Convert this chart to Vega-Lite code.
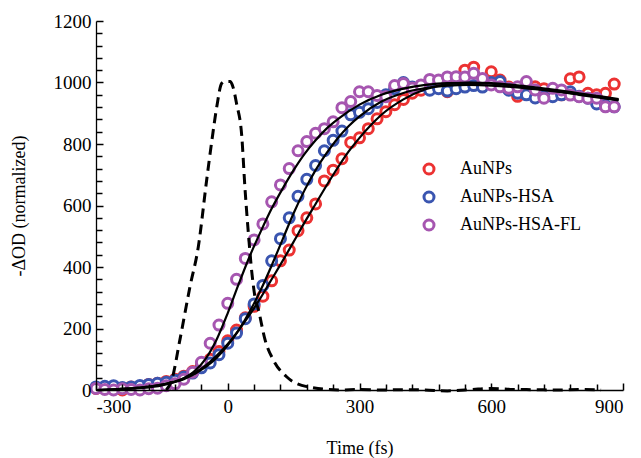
{
  "$schema": "https://vega.github.io/schema/vega-lite/v6.json",
  "width": 527,
  "height": 369,
  "autosize": "none",
  "padding": {"left": 96, "top": 21, "right": 18, "bottom": 68},
  "config": {
    "font": "Liberation Serif",
    "view": {"stroke": null, "fill": null},
    "axis": {
      "grid": false,
      "ticks": true,
      "domainColor": "black",
      "domainWidth": 1.3,
      "tickColor": "black",
      "tickWidth": 1.3,
      "tickOpacity": 1,
      "labelFontSize": 19,
      "labelColor": "black",
      "labelFont": "Liberation Serif",
      "titleFont": "Liberation Serif",
      "titleFontSize": 18,
      "titleFontWeight": "normal",
      "titleColor": "black"
    }
  },
  "resolve": {"axis": {"x": "independent", "y": "independent"}},
  "datasets": {
    "pts": [
      {"s":"AuNPs","t":-300,"v":5},{"s":"AuNPs","t":-280,"v":8},{"s":"AuNPs","t":-260,"v":3},{"s":"AuNPs","t":-240,"v":0},{"s":"AuNPs","t":-220,"v":10},{"s":"AuNPs","t":-200,"v":12},{"s":"AuNPs","t":-180,"v":18},{"s":"AuNPs","t":-160,"v":22},{"s":"AuNPs","t":-140,"v":28},{"s":"AuNPs","t":-120,"v":35},{"s":"AuNPs","t":-100,"v":45},{"s":"AuNPs","t":-80,"v":60},{"s":"AuNPs","t":-60,"v":80},{"s":"AuNPs","t":-40,"v":100},{"s":"AuNPs","t":-20,"v":125},{"s":"AuNPs","t":0,"v":160},{"s":"AuNPs","t":20,"v":195},{"s":"AuNPs","t":40,"v":235},{"s":"AuNPs","t":60,"v":272},{"s":"AuNPs","t":80,"v":305},{"s":"AuNPs","t":100,"v":355},{"s":"AuNPs","t":120,"v":420},{"s":"AuNPs","t":140,"v":455},{"s":"AuNPs","t":160,"v":518},{"s":"AuNPs","t":180,"v":560},{"s":"AuNPs","t":200,"v":605},{"s":"AuNPs","t":220,"v":680},{"s":"AuNPs","t":240,"v":715},{"s":"AuNPs","t":260,"v":752},{"s":"AuNPs","t":280,"v":805},{"s":"AuNPs","t":300,"v":820},{"s":"AuNPs","t":320,"v":850},{"s":"AuNPs","t":340,"v":882},{"s":"AuNPs","t":360,"v":905},{"s":"AuNPs","t":380,"v":928},{"s":"AuNPs","t":400,"v":945},{"s":"AuNPs","t":420,"v":965},{"s":"AuNPs","t":440,"v":975},{"s":"AuNPs","t":460,"v":985},{"s":"AuNPs","t":480,"v":990},{"s":"AuNPs","t":500,"v":970},{"s":"AuNPs","t":520,"v":1005},{"s":"AuNPs","t":540,"v":1040},{"s":"AuNPs","t":560,"v":1050},{"s":"AuNPs","t":580,"v":1000},{"s":"AuNPs","t":600,"v":1035},{"s":"AuNPs","t":620,"v":1008},{"s":"AuNPs","t":640,"v":985},{"s":"AuNPs","t":660,"v":955},{"s":"AuNPs","t":680,"v":990},{"s":"AuNPs","t":700,"v":986},{"s":"AuNPs","t":720,"v":980},{"s":"AuNPs","t":740,"v":970},{"s":"AuNPs","t":760,"v":960},{"s":"AuNPs","t":780,"v":1012},{"s":"AuNPs","t":800,"v":1018},{"s":"AuNPs","t":820,"v":965},{"s":"AuNPs","t":840,"v":960},{"s":"AuNPs","t":860,"v":965},{"s":"AuNPs","t":880,"v":995},
      {"s":"AuNPs-HSA","t":-300,"v":10},{"s":"AuNPs-HSA","t":-280,"v":12},{"s":"AuNPs-HSA","t":-260,"v":14},{"s":"AuNPs-HSA","t":-240,"v":8},{"s":"AuNPs-HSA","t":-220,"v":10},{"s":"AuNPs-HSA","t":-200,"v":15},{"s":"AuNPs-HSA","t":-180,"v":18},{"s":"AuNPs-HSA","t":-160,"v":22},{"s":"AuNPs-HSA","t":-140,"v":25},{"s":"AuNPs-HSA","t":-120,"v":32},{"s":"AuNPs-HSA","t":-100,"v":42},{"s":"AuNPs-HSA","t":-80,"v":55},{"s":"AuNPs-HSA","t":-60,"v":72},{"s":"AuNPs-HSA","t":-40,"v":88},{"s":"AuNPs-HSA","t":-20,"v":115},{"s":"AuNPs-HSA","t":0,"v":152},{"s":"AuNPs-HSA","t":20,"v":185},{"s":"AuNPs-HSA","t":40,"v":232},{"s":"AuNPs-HSA","t":60,"v":280},{"s":"AuNPs-HSA","t":80,"v":340},{"s":"AuNPs-HSA","t":100,"v":420},{"s":"AuNPs-HSA","t":120,"v":492},{"s":"AuNPs-HSA","t":140,"v":560},{"s":"AuNPs-HSA","t":160,"v":630},{"s":"AuNPs-HSA","t":180,"v":685},{"s":"AuNPs-HSA","t":200,"v":730},{"s":"AuNPs-HSA","t":220,"v":778},{"s":"AuNPs-HSA","t":240,"v":812},{"s":"AuNPs-HSA","t":260,"v":842},{"s":"AuNPs-HSA","t":280,"v":895},{"s":"AuNPs-HSA","t":300,"v":903},{"s":"AuNPs-HSA","t":320,"v":915},{"s":"AuNPs-HSA","t":340,"v":935},{"s":"AuNPs-HSA","t":360,"v":960},{"s":"AuNPs-HSA","t":380,"v":980},{"s":"AuNPs-HSA","t":400,"v":1000},{"s":"AuNPs-HSA","t":420,"v":985},{"s":"AuNPs-HSA","t":440,"v":990},{"s":"AuNPs-HSA","t":460,"v":975},{"s":"AuNPs-HSA","t":480,"v":980},{"s":"AuNPs-HSA","t":500,"v":972},{"s":"AuNPs-HSA","t":520,"v":980},{"s":"AuNPs-HSA","t":540,"v":985},{"s":"AuNPs-HSA","t":560,"v":990},{"s":"AuNPs-HSA","t":580,"v":985},{"s":"AuNPs-HSA","t":600,"v":1000},{"s":"AuNPs-HSA","t":620,"v":1003},{"s":"AuNPs-HSA","t":640,"v":975},{"s":"AuNPs-HSA","t":660,"v":965},{"s":"AuNPs-HSA","t":680,"v":960},{"s":"AuNPs-HSA","t":700,"v":950},{"s":"AuNPs-HSA","t":720,"v":955},{"s":"AuNPs-HSA","t":740,"v":954},{"s":"AuNPs-HSA","t":760,"v":960},{"s":"AuNPs-HSA","t":780,"v":970},{"s":"AuNPs-HSA","t":800,"v":955},{"s":"AuNPs-HSA","t":820,"v":949},{"s":"AuNPs-HSA","t":840,"v":930},{"s":"AuNPs-HSA","t":860,"v":925},{"s":"AuNPs-HSA","t":880,"v":921},
      {"s":"AuNPs-HSA-FL","t":-300,"v":5},{"s":"AuNPs-HSA-FL","t":-280,"v":2},{"s":"AuNPs-HSA-FL","t":-260,"v":0},{"s":"AuNPs-HSA-FL","t":-240,"v":4},{"s":"AuNPs-HSA-FL","t":-220,"v":2},{"s":"AuNPs-HSA-FL","t":-200,"v":0},{"s":"AuNPs-HSA-FL","t":-180,"v":4},{"s":"AuNPs-HSA-FL","t":-160,"v":6},{"s":"AuNPs-HSA-FL","t":-140,"v":14},{"s":"AuNPs-HSA-FL","t":-120,"v":20},{"s":"AuNPs-HSA-FL","t":-100,"v":35},{"s":"AuNPs-HSA-FL","t":-80,"v":58},{"s":"AuNPs-HSA-FL","t":-60,"v":90},{"s":"AuNPs-HSA-FL","t":-40,"v":152},{"s":"AuNPs-HSA-FL","t":-20,"v":211},{"s":"AuNPs-HSA-FL","t":0,"v":282},{"s":"AuNPs-HSA-FL","t":20,"v":360},{"s":"AuNPs-HSA-FL","t":40,"v":428},{"s":"AuNPs-HSA-FL","t":60,"v":488},{"s":"AuNPs-HSA-FL","t":80,"v":540},{"s":"AuNPs-HSA-FL","t":100,"v":612},{"s":"AuNPs-HSA-FL","t":120,"v":667},{"s":"AuNPs-HSA-FL","t":140,"v":720},{"s":"AuNPs-HSA-FL","t":160,"v":778},{"s":"AuNPs-HSA-FL","t":180,"v":808},{"s":"AuNPs-HSA-FL","t":200,"v":835},{"s":"AuNPs-HSA-FL","t":220,"v":850},{"s":"AuNPs-HSA-FL","t":240,"v":872},{"s":"AuNPs-HSA-FL","t":260,"v":918},{"s":"AuNPs-HSA-FL","t":280,"v":938},{"s":"AuNPs-HSA-FL","t":300,"v":970},{"s":"AuNPs-HSA-FL","t":320,"v":970},{"s":"AuNPs-HSA-FL","t":340,"v":958},{"s":"AuNPs-HSA-FL","t":360,"v":954},{"s":"AuNPs-HSA-FL","t":380,"v":990},{"s":"AuNPs-HSA-FL","t":400,"v":997},{"s":"AuNPs-HSA-FL","t":420,"v":982},{"s":"AuNPs-HSA-FL","t":440,"v":992},{"s":"AuNPs-HSA-FL","t":460,"v":1010},{"s":"AuNPs-HSA-FL","t":480,"v":1008},{"s":"AuNPs-HSA-FL","t":500,"v":1018},{"s":"AuNPs-HSA-FL","t":520,"v":1019},{"s":"AuNPs-HSA-FL","t":540,"v":1018},{"s":"AuNPs-HSA-FL","t":560,"v":1030},{"s":"AuNPs-HSA-FL","t":580,"v":1013},{"s":"AuNPs-HSA-FL","t":600,"v":992},{"s":"AuNPs-HSA-FL","t":620,"v":986},{"s":"AuNPs-HSA-FL","t":640,"v":981},{"s":"AuNPs-HSA-FL","t":660,"v":986},{"s":"AuNPs-HSA-FL","t":680,"v":1003},{"s":"AuNPs-HSA-FL","t":700,"v":976},{"s":"AuNPs-HSA-FL","t":720,"v":949},{"s":"AuNPs-HSA-FL","t":740,"v":981},{"s":"AuNPs-HSA-FL","t":760,"v":976},{"s":"AuNPs-HSA-FL","t":780,"v":959},{"s":"AuNPs-HSA-FL","t":800,"v":954},{"s":"AuNPs-HSA-FL","t":820,"v":949},{"s":"AuNPs-HSA-FL","t":840,"v":949},{"s":"AuNPs-HSA-FL","t":860,"v":921},{"s":"AuNPs-HSA-FL","t":880,"v":921}
    ],
    "fits": [
      {"s":"AuNPs","t":-300,"v":0},{"s":"AuNPs","t":-250,"v":3},{"s":"AuNPs","t":-200,"v":8},{"s":"AuNPs","t":-150,"v":18},{"s":"AuNPs","t":-100,"v":38},{"s":"AuNPs","t":-50,"v":80},{"s":"AuNPs","t":-25,"v":112},{"s":"AuNPs","t":0,"v":150},{"s":"AuNPs","t":25,"v":195},{"s":"AuNPs","t":50,"v":245},{"s":"AuNPs","t":75,"v":300},{"s":"AuNPs","t":100,"v":360},{"s":"AuNPs","t":125,"v":420},{"s":"AuNPs","t":150,"v":482},{"s":"AuNPs","t":175,"v":545},{"s":"AuNPs","t":200,"v":605},{"s":"AuNPs","t":225,"v":665},{"s":"AuNPs","t":250,"v":722},{"s":"AuNPs","t":275,"v":775},{"s":"AuNPs","t":300,"v":820},{"s":"AuNPs","t":325,"v":860},{"s":"AuNPs","t":350,"v":895},{"s":"AuNPs","t":400,"v":945},{"s":"AuNPs","t":450,"v":978},{"s":"AuNPs","t":500,"v":995},{"s":"AuNPs","t":550,"v":1000},{"s":"AuNPs","t":600,"v":998},{"s":"AuNPs","t":650,"v":992},{"s":"AuNPs","t":700,"v":984},{"s":"AuNPs","t":750,"v":975},{"s":"AuNPs","t":800,"v":965},{"s":"AuNPs","t":850,"v":955},{"s":"AuNPs","t":890,"v":946},
      {"s":"AuNPs-HSA","t":-300,"v":0},{"s":"AuNPs-HSA","t":-250,"v":3},{"s":"AuNPs-HSA","t":-200,"v":8},{"s":"AuNPs-HSA","t":-150,"v":18},{"s":"AuNPs-HSA","t":-100,"v":35},{"s":"AuNPs-HSA","t":-50,"v":75},{"s":"AuNPs-HSA","t":-25,"v":105},{"s":"AuNPs-HSA","t":0,"v":145},{"s":"AuNPs-HSA","t":25,"v":195},{"s":"AuNPs-HSA","t":50,"v":255},{"s":"AuNPs-HSA","t":75,"v":325},{"s":"AuNPs-HSA","t":100,"v":405},{"s":"AuNPs-HSA","t":125,"v":490},{"s":"AuNPs-HSA","t":150,"v":575},{"s":"AuNPs-HSA","t":175,"v":650},{"s":"AuNPs-HSA","t":200,"v":715},{"s":"AuNPs-HSA","t":225,"v":770},{"s":"AuNPs-HSA","t":250,"v":818},{"s":"AuNPs-HSA","t":275,"v":858},{"s":"AuNPs-HSA","t":300,"v":890},{"s":"AuNPs-HSA","t":350,"v":938},{"s":"AuNPs-HSA","t":400,"v":966},{"s":"AuNPs-HSA","t":450,"v":982},{"s":"AuNPs-HSA","t":500,"v":990},{"s":"AuNPs-HSA","t":550,"v":992},{"s":"AuNPs-HSA","t":600,"v":990},{"s":"AuNPs-HSA","t":650,"v":985},{"s":"AuNPs-HSA","t":700,"v":978},{"s":"AuNPs-HSA","t":750,"v":970},{"s":"AuNPs-HSA","t":800,"v":960},{"s":"AuNPs-HSA","t":850,"v":950},{"s":"AuNPs-HSA","t":890,"v":942},
      {"s":"AuNPs-HSA-FL","t":-300,"v":0},{"s":"AuNPs-HSA-FL","t":-250,"v":2},{"s":"AuNPs-HSA-FL","t":-200,"v":6},{"s":"AuNPs-HSA-FL","t":-150,"v":15},{"s":"AuNPs-HSA-FL","t":-100,"v":38},{"s":"AuNPs-HSA-FL","t":-75,"v":62},{"s":"AuNPs-HSA-FL","t":-50,"v":102},{"s":"AuNPs-HSA-FL","t":-25,"v":165},{"s":"AuNPs-HSA-FL","t":0,"v":250},{"s":"AuNPs-HSA-FL","t":25,"v":345},{"s":"AuNPs-HSA-FL","t":50,"v":435},{"s":"AuNPs-HSA-FL","t":75,"v":515},{"s":"AuNPs-HSA-FL","t":100,"v":590},{"s":"AuNPs-HSA-FL","t":125,"v":655},{"s":"AuNPs-HSA-FL","t":150,"v":715},{"s":"AuNPs-HSA-FL","t":175,"v":768},{"s":"AuNPs-HSA-FL","t":200,"v":812},{"s":"AuNPs-HSA-FL","t":225,"v":850},{"s":"AuNPs-HSA-FL","t":250,"v":880},{"s":"AuNPs-HSA-FL","t":300,"v":928},{"s":"AuNPs-HSA-FL","t":350,"v":960},{"s":"AuNPs-HSA-FL","t":400,"v":980},{"s":"AuNPs-HSA-FL","t":450,"v":992},{"s":"AuNPs-HSA-FL","t":500,"v":998},{"s":"AuNPs-HSA-FL","t":550,"v":999},{"s":"AuNPs-HSA-FL","t":600,"v":996},{"s":"AuNPs-HSA-FL","t":650,"v":990},{"s":"AuNPs-HSA-FL","t":700,"v":982},{"s":"AuNPs-HSA-FL","t":750,"v":972},{"s":"AuNPs-HSA-FL","t":800,"v":962},{"s":"AuNPs-HSA-FL","t":850,"v":952},{"s":"AuNPs-HSA-FL","t":890,"v":944}
    ],
    "pulse": [
      {"t":-140,"v":0},{"t":-128,"v":30},{"t":-109,"v":163},{"t":-86,"v":336},{"t":-67,"v":466},{"t":-48,"v":683},{"t":-36,"v":813},{"t":-25,"v":921},{"t":-14,"v":997},{"t":-8,"v":1003},{"t":6,"v":1003},{"t":12,"v":985},{"t":20,"v":932},{"t":32,"v":824},{"t":39,"v":661},{"t":47,"v":509},{"t":55,"v":380},{"t":62,"v":303},{"t":70,"v":260},{"t":85,"v":163},{"t":104,"v":97},{"t":134,"v":43},{"t":180,"v":11},{"t":256,"v":0},{"t":300,"v":2},{"t":350,"v":0},{"t":400,"v":1},{"t":450,"v":0},{"t":500,"v":-3},{"t":540,"v":0},{"t":570,"v":3},{"t":600,"v":5},{"t":650,"v":2},{"t":700,"v":1},{"t":750,"v":0},{"t":800,"v":2},{"t":850,"v":0}
    ]
  },
  "layer": [
    {
      "data": {"name": "pts"},
      "mark": {"type": "point", "shape": "circle", "filled": false, "fill": "white", "fillOpacity": 1, "size": 100, "strokeWidth": 3, "opacity": 1},
      "encoding": {
        "x": {"field": "t", "type": "quantitative",
              "scale": {"domain": [-300, 900], "nice": false, "zero": false},
              "axis": {"orient": "bottom", "zindex": 1, "title": "Time (fs)", "values": [-300, 0, 300, 600, 900],
                       "labelExpr": "toString(datum.value)", "ticks": true, "tickSize": -7, "tickColor": "#000000", "tickWidth": 1.5, "tickOpacity": 1, "labelPadding": 14, "titlePadding": 23}},
        "y": {"field": "v", "type": "quantitative",
              "scale": {"domain": [0, 1200], "nice": false},
              "axis": {"orient": "left", "zindex": 1, "title": "-ΔOD (normalized)", "values": [0, 200, 400, 600, 800, 1000, 1200],
                       "labelExpr": "toString(datum.value)", "ticks": true, "tickSize": -7, "tickColor": "#000000", "tickWidth": 1.5, "tickOpacity": 1, "labelPadding": 12, "titlePadding": 25}},
        "stroke": {"field": "s", "type": "nominal",
                  "scale": {"domain": ["AuNPs", "AuNPs-HSA", "AuNPs-HSA-FL"], "range": ["#ec3232", "#3a55b0", "#a656b0"]},
                  "legend": {"title": null, "orient": "none", "legendX": 324, "legendY": 139, "labelFontSize": 18, "labelFont": "Liberation Serif", "labelColor": "black", "symbolSize": 100, "symbolStrokeWidth": 3, "symbolType": "circle", "symbolFillColor": "white", "labelOffset": 22, "rowPadding": 6}}
      }
    },
    {
      "data": {"name": "fits"},
      "mark": {"type": "line", "color": "black", "strokeWidth": 2.2, "interpolate": "monotone"},
      "encoding": {
        "x": {"field": "t", "type": "quantitative",
              "axis": {"orient": "bottom", "zindex": 1, "title": null, "labels": false, "domain": false, "ticks": true, "tickSize": -6, "tickColor": "#000000", "tickWidth": 1.5, "tickOpacity": 1,
                       "values": [-240,-180,-120,-60,60,120,180,240,360,420,480,540,660,720,780,840]}},
        "y": {"field": "v", "type": "quantitative",
              "axis": {"orient": "left", "zindex": 1, "title": null, "labels": false, "domain": false, "ticks": true, "tickSize": -6, "tickColor": "#000000", "tickWidth": 1.5, "tickOpacity": 1,
                       "values": [40,80,120,160,240,280,320,360,440,480,520,560,640,680,720,760,840,880,920,960,1040,1080,1120,1160]}},
        "detail": {"field": "s", "type": "nominal"}
      }
    },
    {
      "data": {"name": "pulse"},
      "mark": {"type": "line", "color": "black", "strokeWidth": 3, "strokeDash": [10, 6], "interpolate": "monotone"},
      "encoding": {
        "x": {"field": "t", "type": "quantitative", "axis": null},
        "y": {"field": "v", "type": "quantitative", "axis": null}
      }
    }
  ]
}
